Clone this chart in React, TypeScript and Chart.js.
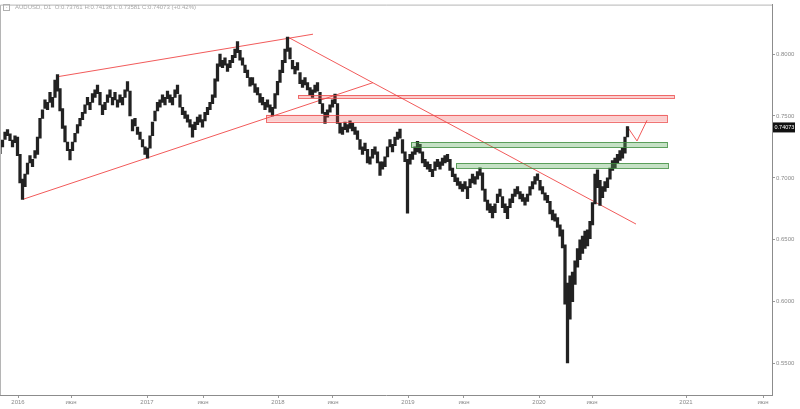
import React, { useEffect, useRef } from "react";
import { Chart, registerables } from "chart.js";
Chart.register(...registerables);

const symbolTitle = "AUDUSD, D1";
const ohlcText = "O:0.73761 H:0.74136 L:0.73581 C:0.74073 (+0.42%)";
const lastPrice = 0.74073;

// weekly bars, index 0 = mid-Nov 2015
const weekLows = [
  0.7195, 0.7250, 0.7310, 0.7340, 0.7300, 0.7250, 0.7285, 0.7180, 0.6960, 0.6827,
  0.6930, 0.7030, 0.7120, 0.7090, 0.7160, 0.7190, 0.7320, 0.7480, 0.7560, 0.7550,
  0.7610, 0.7570, 0.7650, 0.7700, 0.7540, 0.7400, 0.7290, 0.7220, 0.7145, 0.7220,
  0.7290, 0.7360, 0.7420, 0.7470, 0.7520, 0.7590, 0.7550, 0.7610, 0.7650, 0.7680,
  0.7590, 0.7510, 0.7550, 0.7610, 0.7650, 0.7590, 0.7630, 0.7570, 0.7610, 0.7590,
  0.7650, 0.7700, 0.7500, 0.7380, 0.7420, 0.7350, 0.7310, 0.7250, 0.7190, 0.7160,
  0.7240, 0.7340, 0.7460, 0.7540, 0.7570, 0.7610, 0.7590, 0.7640, 0.7610, 0.7590,
  0.7650, 0.7680, 0.7570, 0.7510, 0.7480, 0.7450, 0.7410, 0.7328, 0.7390, 0.7430,
  0.7450, 0.7410, 0.7460, 0.7510, 0.7550, 0.7600, 0.7650, 0.7780, 0.7900, 0.7890,
  0.7910, 0.7860, 0.7890, 0.7930, 0.7970, 0.8010, 0.7950, 0.7910, 0.7850, 0.7810,
  0.7740, 0.7750, 0.7690, 0.7670, 0.7610, 0.7590, 0.7550, 0.7570, 0.7530, 0.7501,
  0.7560, 0.7670, 0.7770, 0.7850, 0.7930, 0.8020, 0.7960, 0.7880, 0.7840, 0.7870,
  0.7760, 0.7730, 0.7750, 0.7710, 0.7670, 0.7650, 0.7690, 0.7700, 0.7600, 0.7520,
  0.7440, 0.7490, 0.7530, 0.7570, 0.7600, 0.7440, 0.7360, 0.7350, 0.7390, 0.7370,
  0.7400, 0.7380, 0.7350, 0.7310, 0.7230, 0.7190, 0.7220, 0.7120, 0.7110, 0.7160,
  0.7190, 0.7120, 0.7020, 0.7070, 0.7090, 0.7170, 0.7250, 0.7210, 0.7260, 0.7310,
  0.7320, 0.7200, 0.7130, 0.6715, 0.7110, 0.7150, 0.7190, 0.7210, 0.7200, 0.7120,
  0.7090, 0.7070, 0.7050, 0.7010, 0.7060, 0.7090, 0.7070, 0.7100, 0.7120, 0.7130,
  0.7060, 0.7010, 0.6970, 0.6940, 0.6910, 0.6890, 0.6910, 0.6832, 0.6920, 0.6960,
  0.6950, 0.6990, 0.7020, 0.6900, 0.6810, 0.6740, 0.6720, 0.6677, 0.6720, 0.6800,
  0.6850, 0.6760, 0.6720, 0.6671, 0.6760, 0.6800, 0.6850, 0.6870, 0.6830, 0.6810,
  0.6780, 0.6810, 0.6860, 0.6910, 0.6950, 0.6980, 0.6900, 0.6870, 0.6820, 0.6800,
  0.6710, 0.6660, 0.6650, 0.6600, 0.6530, 0.6434, 0.5980, 0.5506, 0.5860, 0.6000,
  0.6140, 0.6280, 0.6340, 0.6390, 0.6430, 0.6450, 0.6510, 0.6620, 0.6790, 0.6920,
  0.6777, 0.6840, 0.6890, 0.6920, 0.6990, 0.7060, 0.7080, 0.7120, 0.7140, 0.7160,
  0.7200, 0.7330,
];
const weekHighs = [
  0.7250, 0.7305, 0.7370, 0.7390, 0.7355, 0.7305, 0.7340, 0.7330, 0.7190, 0.6990,
  0.7030, 0.7120, 0.7180, 0.7150, 0.7220, 0.7330, 0.7480, 0.7550, 0.7630, 0.7610,
  0.7690, 0.7650, 0.7790, 0.7835, 0.7720, 0.7560, 0.7420, 0.7290, 0.7230, 0.7290,
  0.7360, 0.7430, 0.7480, 0.7530, 0.7590, 0.7650, 0.7610, 0.7680, 0.7710, 0.7750,
  0.7690, 0.7590, 0.7610, 0.7670, 0.7710, 0.7650, 0.7690, 0.7630, 0.7670, 0.7650,
  0.7710, 0.7778, 0.7700, 0.7470, 0.7480, 0.7410, 0.7370, 0.7310, 0.7250, 0.7240,
  0.7340, 0.7450, 0.7540, 0.7610, 0.7630, 0.7670, 0.7650, 0.7700, 0.7670, 0.7650,
  0.7710, 0.7749, 0.7670, 0.7570, 0.7540, 0.7510, 0.7470, 0.7430, 0.7450, 0.7490,
  0.7510, 0.7470, 0.7530, 0.7570, 0.7610, 0.7670, 0.7800, 0.7920, 0.8000, 0.7950,
  0.7970, 0.7920, 0.7950, 0.7990, 0.8040, 0.8100, 0.8030, 0.7970, 0.7910, 0.7870,
  0.7810, 0.7810, 0.7760, 0.7730, 0.7680, 0.7650, 0.7610, 0.7630, 0.7590, 0.7570,
  0.7680, 0.7780, 0.7870, 0.7950, 0.8040, 0.8136, 0.8050, 0.7950, 0.7900, 0.7930,
  0.7850, 0.7790, 0.7810, 0.7770, 0.7730, 0.7710, 0.7750, 0.7770, 0.7690, 0.7600,
  0.7530, 0.7550, 0.7590, 0.7630, 0.7677, 0.7600, 0.7440, 0.7410, 0.7450, 0.7430,
  0.7460, 0.7440, 0.7410, 0.7380, 0.7310, 0.7250, 0.7280, 0.7230, 0.7170, 0.7230,
  0.7250, 0.7210, 0.7130, 0.7130, 0.7170, 0.7250, 0.7310, 0.7270, 0.7330, 0.7370,
  0.7393, 0.7310, 0.7210, 0.7150, 0.7190, 0.7210, 0.7250, 0.7296, 0.7270, 0.7210,
  0.7150, 0.7130, 0.7110, 0.7070, 0.7130, 0.7150, 0.7130, 0.7160, 0.7180, 0.7190,
  0.7150, 0.7080, 0.7030, 0.7000, 0.6970, 0.6950, 0.6970, 0.6930, 0.6990, 0.7030,
  0.7010, 0.7050, 0.7082, 0.7040, 0.6910, 0.6820, 0.6790, 0.6770, 0.6790, 0.6870,
  0.6910, 0.6850, 0.6790, 0.6770, 0.6830, 0.6870, 0.6910, 0.6930, 0.6890, 0.6870,
  0.6840, 0.6870, 0.6930, 0.6970, 0.7010, 0.7032, 0.6980, 0.6930, 0.6880, 0.6860,
  0.6810, 0.6740, 0.6710, 0.6680, 0.6620, 0.6580, 0.6460, 0.6150, 0.6210, 0.6240,
  0.6330, 0.6430, 0.6500, 0.6530, 0.6570, 0.6580, 0.6650, 0.6800, 0.7030, 0.7064,
  0.6980, 0.6930, 0.6970, 0.7000, 0.7080, 0.7140, 0.7160, 0.7190, 0.7220, 0.7240,
  0.7330, 0.7414,
];

// time axis (in weeks from start of view)
const xMin = 0;
const xMax = 308.8;
const xTickWeeks = [7.2, 28.4, 58.8, 81.2, 111.2, 133.2, 163.2, 185.6, 215.6, 236.8, 274.4, 305.2];
const xTickLabels = ["2016", "июн", "2017", "июн", "2018", "июн", "2019", "июн", "2020", "июн", "2021", "июн"];
const yMin = 0.5247;
const yMax = 0.8399;
const yTicks = [0.55, 0.6, 0.65, 0.7, 0.75, 0.8];

// drawings
const upperChannel = [{ x: 22.8, y: 0.7816 }, { x: 125.2, y: 0.816 }];
const lowerChannel = [{ x: 9.2, y: 0.6827 }, { x: 149.2, y: 0.7769 }];
const downTrend = [{ x: 115.2, y: 0.8136 }, { x: 254.4, y: 0.6627 }];
const projection = [{ x: 250.8, y: 0.7417 }, { x: 254.8, y: 0.7298 }, { x: 258.8, y: 0.7465 }];
// [startWeek, endWeek, topPrice, bottomPrice]
const redZones = [
  [119.2, 269.6, 0.7669, 0.7645],
  [106.4, 266.8, 0.7509, 0.7453],
];
const greenZones = [
  [164.4, 266.8, 0.7287, 0.7246],
  [182.4, 267.2, 0.7118, 0.7078],
];

const FONT = "'Liberation Sans', Arial, sans-serif";
const RED = "rgba(240,72,72,0.9)";

export default function App() {
  const ref = useRef<HTMLCanvasElement>(null);

  useEffect(() => {
    if (!ref.current) return;
    const candles = weekLows.map((lo, i) => ({ x: i, y: [lo, weekHighs[i]] }));

    const zonePlugin = {
      id: "zones",
      afterDatasetsDraw(chart: any) {
        const { ctx } = chart;
        const xs = chart.scales.x;
        const ys = chart.scales.y;
        ctx.save();
        const draw = (z: number[], fill: string, stroke: string) => {
          const x1 = xs.getPixelForValue(z[0]);
          const x2 = xs.getPixelForValue(z[1]);
          const y1 = ys.getPixelForValue(z[2]);
          const y2 = ys.getPixelForValue(z[3]);
          ctx.fillStyle = fill;
          ctx.fillRect(x1, y1, x2 - x1, y2 - y1);
          ctx.strokeStyle = stroke;
          ctx.lineWidth = 1;
          ctx.strokeRect(Math.round(x1) + 0.5, Math.round(y1) + 0.5, Math.round(x2 - x1), Math.round(y2 - y1));
        };
        redZones.forEach((z) => draw(z, "rgba(242,80,80,0.28)", "rgba(235,70,70,0.75)"));
        greenZones.forEach((z) => draw(z, "rgba(90,170,90,0.35)", "rgba(60,140,60,0.8)"));
        ctx.restore();
      },
    };

    const framePlugin = {
      id: "frame",
      afterDraw(chart: any) {
        const { ctx, chartArea } = chart;
        const ys = chart.scales.y;
        ctx.save();
        ctx.strokeStyle = "#b5b5b5";
        ctx.lineWidth = 1;
        ctx.beginPath();
        ctx.moveTo(chartArea.left + 0.5, chartArea.bottom);
        ctx.lineTo(chartArea.left + 0.5, chartArea.top + 0.5);
        ctx.lineTo(chartArea.right, chartArea.top + 0.5);
        ctx.stroke();
        // last price label
        const py = ys.getPixelForValue(lastPrice);
        ctx.fillStyle = "#111";
        ctx.fillRect(chartArea.right + 1, py - 5, 22, 10);
        ctx.fillStyle = "#fff";
        ctx.font = `5.5px ${FONT}`;
        ctx.textBaseline = "middle";
        ctx.textAlign = "left";
        ctx.fillText(lastPrice.toFixed(5), chartArea.right + 2.5, py + 0.5);
        ctx.restore();
      },
    };

    const lineDs = (data: any[]) => ({
      type: "line" as const,
      data,
      borderColor: RED,
      borderWidth: 1,
      pointRadius: 0,
      fill: false,
      tension: 0,
    });

    const chart = new Chart(ref.current, {
      type: "bar",
      data: {
        datasets: [
          {
            type: "bar",
            data: candles as any,
            backgroundColor: "#222",
            borderWidth: 0,
            barThickness: 2.6,
          } as any,
          lineDs(upperChannel),
          lineDs(lowerChannel),
          lineDs(downTrend),
          lineDs(projection),
        ],
      },
      options: {
        animation: false,
        responsive: true,
        maintainAspectRatio: false,
        layout: { padding: 0 },
        plugins: { legend: { display: false }, tooltip: { enabled: false } },
        scales: {
          x: {
            type: "linear",
            min: xMin,
            max: xMax,
            offset: false,
            afterFit: (s: any) => {
              s.height = 14;
            },
            afterBuildTicks: (s: any) => {
              s.ticks = xTickWeeks.map((v) => ({ value: v }));
            },
            ticks: {
              autoSkip: false,
              maxRotation: 0,
              padding: 1,
              color: "#8a8a8a",
              font: { size: 6, family: FONT },
              callback: (v: any) => {
                const i = xTickWeeks.indexOf(Number(v));
                return i >= 0 ? xTickLabels[i] : "";
              },
            },
            grid: { drawOnChartArea: false, drawTicks: true, tickLength: 3, color: "#999", offset: false },
            border: { display: true, color: "#8c8c8c" },
          },
          y: {
            type: "linear",
            position: "right",
            min: yMin,
            max: yMax,
            afterFit: (s: any) => {
              s.width = 28;
            },
            afterBuildTicks: (s: any) => {
              s.ticks = yTicks.map((v) => ({ value: v }));
            },
            ticks: {
              padding: 1,
              color: "#8a8a8a",
              font: { size: 6, family: FONT },
              callback: (v: any) => Number(v).toFixed(4),
            },
            grid: { drawOnChartArea: false, drawTicks: true, tickLength: 3, color: "#999" },
            border: { display: true, color: "#8c8c8c" },
          },
        },
      },
      plugins: [zonePlugin, framePlugin],
    });
    return () => chart.destroy();
  }, []);

  return (
    <div style={{ position: "fixed", left: 0, top: 0, width: 800, height: 409, background: "#fff" }}>
      <canvas ref={ref} />
      <div
        style={{
          position: "absolute",
          left: 3,
          top: 3,
          display: "flex",
          alignItems: "center",
          fontFamily: FONT,
          fontSize: 6,
          color: "#a8a8a8",
          whiteSpace: "pre",
          lineHeight: "8px",
        }}
      >
        <span
          style={{
            display: "inline-block",
            width: 5,
            height: 5,
            border: "1px solid #b0b0b0",
            marginRight: 5,
            fontSize: 5,
            lineHeight: "5px",
            textAlign: "center",
          }}
        >
          -
        </span>
        <span>{symbolTitle}  {ohlcText}</span>
      </div>
    </div>
  );
}
